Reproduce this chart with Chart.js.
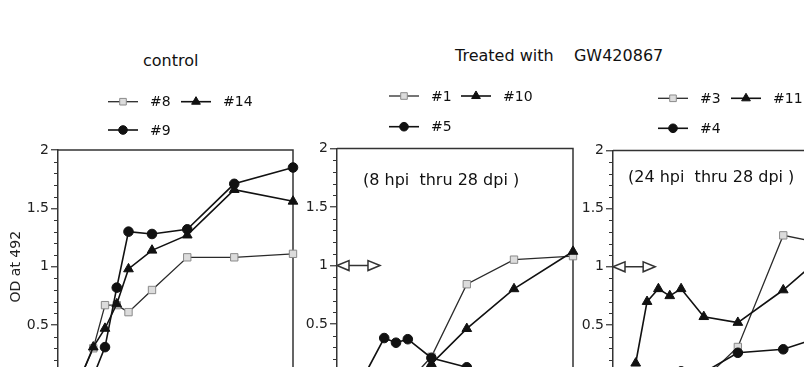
<!DOCTYPE html>
<html>
<head>
<meta charset="utf-8" />
<script src="https://cdn.jsdelivr.net/npm/chart.js@4.4.0/dist/chart.umd.min.js"></script>
<style>
  html, body { margin: 0; padding: 0; background: #fff; }
  body { width: 804px; height: 367px; overflow: hidden; position: relative; font-family: "DejaVu Sans", sans-serif; color: #111; }
  .panel { position: absolute; top: 0; height: 430px; }
  .title { position: absolute; font-size: 16px; line-height: 16px; white-space: pre; }
</style>
</head>
<body>
<div class="title" style="left:143px;top:52.5px">control</div>
<div class="title" style="left:455px;top:48px">Treated with    GW420867</div>
<div class="panel" style="left:0;width:300px"><canvas id="c1"></canvas></div>
<div class="panel" style="left:300px;width:285px"><canvas id="c2"></canvas></div>
<div class="panel" style="left:575px;width:280px"><canvas id="c3"></canvas></div>
<script>
// sampling times (days) and OD readings
var days = [2.8, 4.2, 5.6, 7, 8.4, 11.2, 15.4, 21, 28];

// control
var od8 = [0.07, 0.3, 0.67, 0.67, 0.61, 0.8, 1.08, 1.08, 1.11];
var od14 = [0.07, 0.31, 0.47, 0.68, 0.98, 1.14, 1.27, 1.66, 1.56];
var od9 = [0.03, 0.06, 0.31, 0.82, 1.3, 1.28, 1.32, 1.71, 1.85];

// treated 8 hpi thru 28 dpi
var od1 = [null, null, null, null, 0.0, 0.22, 0.84, 1.05, 1.08];
var od10 = [null, null, null, null, 0.0, 0.16, 0.46, 0.8, 1.12];
var od5 = [0.0, null, 0.38, 0.34, 0.37, 0.21, 0.13, 0.05, 0.05];

// treated 24 hpi thru 28 dpi
var od3 = [null, null, null, null, null, 0.03, 0.31, 1.27, 1.17];
var od11 = [0.17, 0.7, 0.81, 0.75, 0.81, 0.57, 0.52, 0.8, 1.22];
var od4 = [null, null, null, null, 0.1, 0.09, 0.26, 0.29, 0.45];

// treatment window arrows (days) drawn at OD 1
var arrowOD = 1;
var arrow2 = [0, 5.1];
var arrow3 = [0, 5.2];

var FONT = "DejaVu Sans";
var INK = "#333";

var styles = {
  rect: { pointStyle: "rect", pointRadius: 5.2, pointBackgroundColor: "#dcdcdc", pointBorderColor: "#8a8a8a", pointBorderWidth: 1, borderColor: "#2a2a2a", borderWidth: 1.3, order: 3 },
  triangle: { pointStyle: "triangle", pointRadius: 5.6, pointBackgroundColor: "#111", pointBorderColor: "#111", pointBorderWidth: 1, borderColor: "#111", borderWidth: 1.6, order: 2 },
  circle: { pointStyle: "circle", pointRadius: 4.8, pointBackgroundColor: "#111", pointBorderColor: "#111", pointBorderWidth: 1, borderColor: "#111", borderWidth: 1.6, order: 1 },
};

var series = (label, vals, style) =>
  Object.assign(
    { label: label, data: days.map((d, i) => ({ x: d, y: vals[i] })), spanGaps: true, clip: false, tension: 0 },
    styles[style]
  );

function marker(ctx, ds, x, y, r) {
  ctx.fillStyle = ds.pointBackgroundColor;
  ctx.strokeStyle = ds.pointBorderColor;
  ctx.lineWidth = ds.pointBorderWidth;
  ctx.beginPath();
  if (ds.pointStyle === "circle") {
    ctx.arc(x, y, r, 0, Math.PI * 2);
  } else if (ds.pointStyle === "rect") {
    var s = r * Math.SQRT1_2;
    ctx.rect(x - s, y - s, 2 * s, 2 * s);
  } else {
    ctx.moveTo(x, y - r);
    ctx.lineTo(x + r * 0.866, y + r * 0.5);
    ctx.lineTo(x - r * 0.866, y + r * 0.5);
    ctx.closePath();
  }
  ctx.fill();
  ctx.stroke();
}

var panelDecor = {
  id: "panelDecor",
  beforeDatasetsDraw(chart, args, opts) {
    var ctx = chart.ctx, a = chart.chartArea, ys = chart.scales.y, xs = chart.scales.x;
    ctx.save();
    ctx.strokeStyle = INK;
    ctx.lineWidth = 1.5;
    ctx.beginPath();
    ctx.moveTo(a.left, a.top);
    ctx.lineTo(a.right, a.top);
    ctx.lineTo(a.right, a.bottom);
    ctx.stroke();
    // minor ticks
    ctx.lineWidth = 1;
    for (var k = 1; k < 20; k++) {
      if (k % 5 === 0) continue;
      var py = Math.round(ys.getPixelForValue(k / 10)) + 0.5;
      ctx.beginPath();
      ctx.moveTo(a.left - 4, py);
      ctx.lineTo(a.left, py);
      ctx.stroke();
    }
    if (opts.arrow) {
      var x0 = xs.getPixelForValue(opts.arrow[0]), x1 = xs.getPixelForValue(opts.arrow[1]);
      var ya = ys.getPixelForValue(arrowOD);
      ctx.lineWidth = 1.5;
      ctx.beginPath();
      ctx.moveTo(x0 + 11, ya);
      ctx.lineTo(x1 - 11, ya);
      ctx.stroke();
      [[x0, -1], [x1, 1]].forEach((h) => {
        ctx.beginPath();
        ctx.moveTo(h[0], ya);
        ctx.lineTo(h[0] - h[1] * 12, ya - 5);
        ctx.lineTo(h[0] - h[1] * 12, ya + 5);
        ctx.closePath();
        ctx.fillStyle = "#fff";
        ctx.fill();
        ctx.stroke();
      });
    }
    ctx.restore();
  },
  afterDraw(chart, args, opts) {
    var ctx = chart.ctx;
    ctx.save();
    ctx.fillStyle = "#111";
    if (opts.note) {
      ctx.font = "16px '" + FONT + "'";
      ctx.textBaseline = "alphabetic";
      ctx.fillText(opts.note.text, opts.note.x, opts.note.y);
    }
    (opts.legend || []).forEach((it) => {
      var ds = chart.data.datasets[it.i];
      var lx = opts.legendX + it.col * opts.colGap, ly = opts.rows[it.row];
      ctx.strokeStyle = ds.borderColor;
      ctx.lineWidth = ds.borderWidth;
      ctx.beginPath();
      ctx.moveTo(lx, ly);
      ctx.lineTo(lx + 30, ly);
      ctx.stroke();
      marker(ctx, ds, lx + 15, ly, ds.pointRadius * 0.9);
      ctx.fillStyle = "#111";
      ctx.font = "14px '" + FONT + "'";
      ctx.textBaseline = "middle";
      ctx.fillText(ds.label, lx + 42, ly + 1);
    });
    ctx.restore();
  },
};

function makePanel(id, datasets, axisW, pad, decor, yTitle) {
  return new Chart(document.getElementById(id), {
    type: "line",
    data: { datasets: datasets },
    plugins: [panelDecor],
    options: {
      responsive: true,
      maintainAspectRatio: false,
      animation: false,
      events: [],
      layout: { padding: pad },
      plugins: { legend: { display: false }, tooltip: { enabled: false }, panelDecor: decor },
      scales: {
        x: { type: "linear", min: 0, max: 28, display: false },
        y: {
          min: 0,
          max: 2,
          afterFit: (s) => { s.width = axisW; },
          ticks: { stepSize: 0.5, padding: 2, color: "#222", font: { family: FONT, size: 14 }, callback: (v) => String(v) },
          grid: { drawOnChartArea: false, tickLength: 7, tickWidth: 1.2, color: INK, lineWidth: 1.5 },
          border: { color: INK, width: 1.5 },
          title: {
            display: !!yTitle,
            text: yTitle || "",
            color: "#222",
            font: { family: FONT, size: 14 },
            padding: { top: 8, bottom: 0 },
          },
        },
      },
    },
  });
}

makePanel(
  "c1",
  [series("#8", od8, "rect"), series("#14", od14, "triangle"), series("#9", od9, "circle")],
  58,
  { top: 150, right: 7, bottom: 46.7, left: 0 },
  { legendX: 108, colGap: 73, rows: [101.7, 130], legend: [{ i: 0, row: 0, col: 0 }, { i: 1, row: 0, col: 1 }, { i: 2, row: 1, col: 0 }] },
  "OD at 492"
);

makePanel(
  "c2",
  [series("#1", od1, "rect"), series("#10", od10, "triangle"), series("#5", od5, "circle")],
  37,
  { top: 148.5, right: 12, bottom: 47.5, left: 0 },
  {
    legendX: 89, colGap: 72, rows: [96, 126.7],
    legend: [{ i: 0, row: 0, col: 0 }, { i: 1, row: 0, col: 1 }, { i: 2, row: 1, col: 0 }],
    note: { text: "(8 hpi  thru 28 dpi )", x: 63, y: 185 },
    arrow: arrow2,
  }
);

makePanel(
  "c3",
  [series("#3", od3, "rect"), series("#11", od11, "triangle"), series("#4", od4, "circle")],
  38,
  { top: 150.5, right: 15, bottom: 47, left: 0 },
  {
    legendX: 83, colGap: 73, rows: [98.3, 128.3],
    legend: [{ i: 0, row: 0, col: 0 }, { i: 1, row: 0, col: 1 }, { i: 2, row: 1, col: 0 }],
    note: { text: "(24 hpi  thru 28 dpi )", x: 53, y: 181.5 },
    arrow: arrow3,
  }
);
</script>
</body>
</html>
